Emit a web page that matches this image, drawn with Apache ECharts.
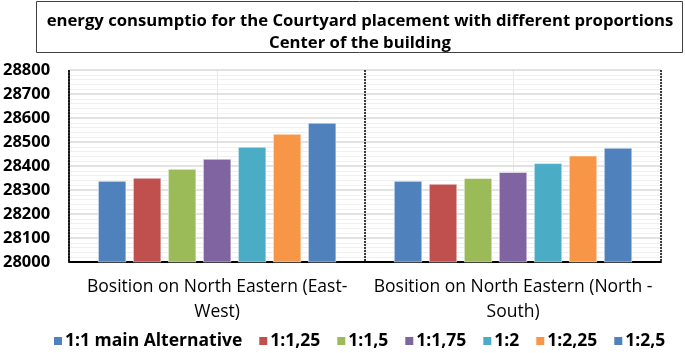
<!DOCTYPE html>
<html><head><meta charset="utf-8">
<script src="https://cdn.jsdelivr.net/npm/echarts@6/dist/echarts.min.js"></script>
<style>html,body{margin:0;padding:0;background:#fff}#c{width:685px;height:353px}</style>
</head><body><div id="c"></div>
<script>
const titleLines = ["energy consumptio for the Courtyard placement with different proportions", "Center of the building"];
const categories = ["Bosition on North Eastern (East-\nWest)", "Bosition on North Eastern (North -\nSouth)"];
const seriesNames = ["1:1 main Alternative", "1:1,25", "1:1,5", "1:1,75", "1:2", "1:2,25", "1:2,5"];
const s_1_1 = [28337, 28337];
const s_1_125 = [28350, 28325];
const s_1_15 = [28387, 28349];
const s_1_175 = [28429, 28374];
const s_1_2 = [28479, 28411];
const s_1_225 = [28533, 28443];
const s_1_25 = [28579, 28475];
const yTicks = [28000, 28100, 28200, 28300, 28400, 28500, 28600, 28700, 28800];
const colors = ["#4F81BD", "#C0504D", "#9BBB59", "#8064A2", "#4BACC6", "#F79646", "#4F81BD"];
const allSeries = [s_1_1, s_1_125, s_1_15, s_1_175, s_1_2, s_1_225, s_1_25];

const chart = echarts.init(document.getElementById('c'), null, {renderer: 'canvas'});
const FONT = 'Open Sans';
chart.setOption({
  animation: false,
  backgroundColor: '#fff',
  title: {
    text: titleLines.join('\n'),
    left: 355, top: 5, textAlign: 'center',
    textStyle: {fontFamily: FONT, fontWeight: 'bold', fontSize: 16.7, lineHeight: 22, color: '#000'}
  },
  graphic: [{type: 'rect', shape: {x: 36.5, y: 1.5, width: 646, height: 51}, style: {fill: 'none', stroke: '#404040', lineWidth: 1}, z: 10}],
  legend: {
    bottom: -2, left: 47, itemWidth: 10, itemHeight: 10, itemGap: 15,
    icon: 'rect',
    textStyle: {fontFamily: FONT, fontWeight: 'bold', fontSize: 17.5, color: '#000', padding: [0, 0, 0, -3]},
    data: seriesNames
  },
  grid: {left: 69, right: 24, top: 70, bottom: 91},
  xAxis: [{
    type: 'category', data: categories,
    axisLine: {show: true, lineStyle: {color: '#000', width: 2}},
    axisTick: {show: false, interval: 0},
    splitLine: {show: true, interval: 0, lineStyle: {color: '#000', type: [2, 1], width: 1.5}},
    axisLabel: {interval: 0, fontFamily: FONT, fontSize: 17.5, lineHeight: 25, color: '#000', margin: 13}
  }, {
    type: 'value', min: 0, max: 4, interval: 1, show: true, position: 'bottom',
    axisLine: {show: false}, axisTick: {show: false}, axisLabel: {show: false},
    splitLine: {show: true, lineStyle: {color: '#e6e6e6', width: 1}}, z: -1
  }],
  yAxis: {
    type: 'value', min: yTicks[0], max: yTicks[yTicks.length - 1], interval: 100,
    axisLine: {show: true, lineStyle: {color: '#000', type: [2, 1], width: 1.5}},
    axisTick: {show: false},
    axisLabel: {fontFamily: FONT, fontWeight: 'bold', fontSize: 16.5, color: '#000', margin: 19, formatter: v => String(v)},
    splitLine: {show: true, lineStyle: {color: '#d9d9d9', width: 1.5}},
    minorTick: {show: false, splitNumber: 5},
    minorSplitLine: {show: true, lineStyle: {color: '#f0f0f0', width: 1}}
  },
  series: seriesNames.map((n, i) => ({
    name: n, type: 'bar', xAxisIndex: 0, data: allSeries[i],
    barWidth: 28, barGap: '25%', barCategoryGap: '20%',
    itemStyle: {color: colors[i], borderColor: '#fff', borderWidth: 0.5}
  }))
});
</script></body></html>
